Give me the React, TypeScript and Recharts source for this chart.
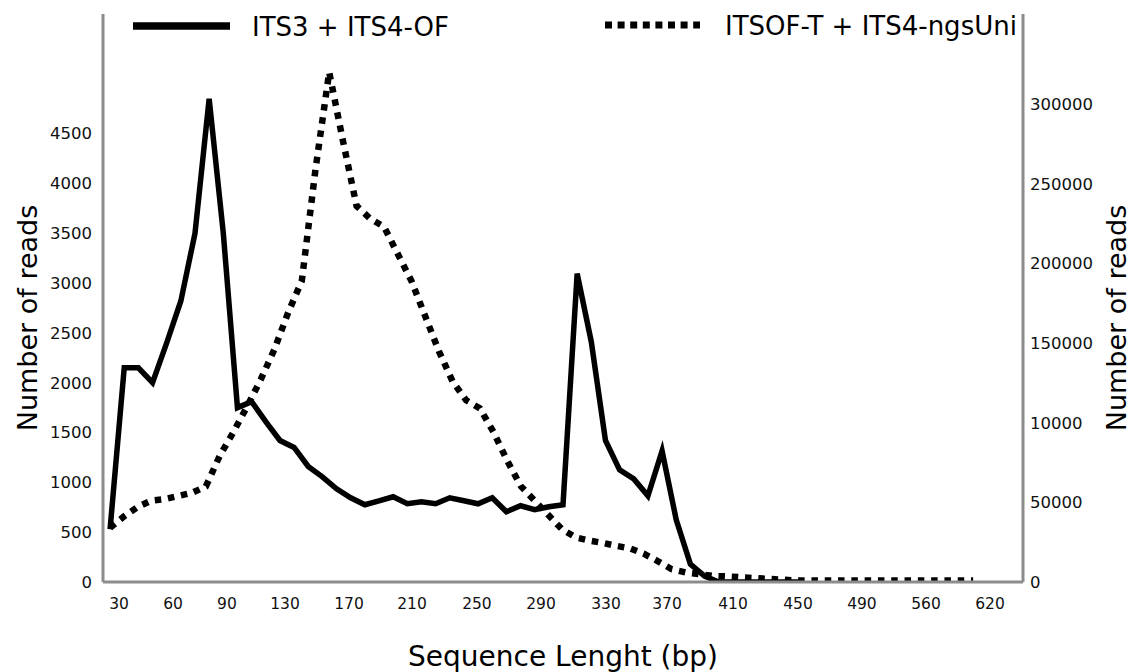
import React from "react";
import { LineChart, Line, XAxis, YAxis, Legend } from "recharts";

// ITS3 + ITS4-OF reads per length bin (left axis)
const its3Reads = [
  530, 2150, 2150, 2000, 2400, 2820, 3500, 4850, 3500, 1750,
  1810, 1610, 1420, 1350, 1160, 1055, 935, 845, 775, 815,
  855, 785, 805, 785, 845, 815, 785, 845, 705, 765,
  725, 755, 775, 3095, 2410, 1420, 1125, 1035, 865, 1315,
  625, 180, 60, 0, 0, 0, 0, 0, 0, 0,
];

// ITSOF-T + ITS4-ngsUni reads per length bin (right axis)
const itsofReads = [
  34000, 41000, 47000, 51000, 52000, 54000, 56000, 60000, 79000, 94000,
  110000, 127000, 146000, 169000, 189000, 259000, 320000, 277000, 236000, 228000,
  223000, 206000, 189000, 167000, 145000, 126000, 114000, 109000, 94000, 76000,
  60000, 51000, 42000, 33000, 28000, 26000, 24500, 22600, 21000, 17600,
  13000, 8000, 6000, 5000, 3800, 3500, 3000, 2500, 2000, 1500,
  1000, 1000, 1000, 1000, 1000, 1000, 1000, 1000, 1000, 1000,
  1000, 1000, 1000, 1000,
];

// x tick labels and the bin where each one sits
const lengthLabels = ["30", "60", "90", "130", "170", "210", "250", "290", "330", "370", "410", "450", "490", "560", "620"];
const lengthTickBins = [0.63, 4.45, 8.26, 12.36, 16.88, 21.33, 25.92, 30.45, 35.04, 39.35, 44.01, 48.6, 53.12, 57.65, 62.17];

const leftTicks = [0, 500, 1000, 1500, 2000, 2500, 3000, 3500, 4000, 4500];
const rightTicks = [0, 50000, 100000, 150000, 200000, 250000, 300000];
const rightTickLabels = ["0", "50000", "10000", "150000", "200000", "250000", "300000"];

const W = 1131;
const H = 672;
const grey = "#8c8c8c";
const font = "DejaVu Sans";

const solidData = its3Reads.map((v, i) => ({ bin: i, reads: v }));
const dottedData = itsofReads.map((v, i) => ({ bin: i, reads: v }));

const LegendBox = () => (
  <svg width={W} height={50} style={{ display: "block" }}>
    <line x1={133} x2={230} y1={26} y2={26} stroke="#000" strokeWidth={7.5} />
    <text x={252} y={35.5} fontSize={26} fontFamily={font} fill="#000">
      ITS3 + ITS4-OF
    </text>
    <line x1={605} x2={700} y1={25} y2={25} stroke="#000" strokeWidth={7} strokeDasharray="7 5.6" />
    <text x={725} y={34.5} fontSize={26} fontFamily={font} fill="#000">
      ITSOF-T + ITS4-ngsUni
    </text>
  </svg>
);

// rotated axis title, a little below the middle of the axis like the original
const sideTitle = (fromLeft: boolean) => (props: any) => {
  const vb = props.viewBox || {};
  const cx = fromLeft ? vb.x + 27 : vb.x + vb.width - 15;
  const cy = vb.y + vb.height / 2 + 20;
  return (
    <text
      x={cx}
      y={cy}
      transform={`rotate(-90, ${cx}, ${cy})`}
      textAnchor="middle"
      dominantBaseline="central"
      fontSize={27}
      fontFamily={font}
      fill="#000"
    >
      Number of reads
    </text>
  );
};

export default function App() {
  return (
    <div style={{ position: "absolute", left: 0, top: 0, width: W, height: H, background: "#fff", fontFamily: font }}>
      <LineChart width={W} height={H} margin={{ top: 14, right: 0, bottom: 50, left: 0 }}>
        <XAxis
          xAxisId="its3"
          type="number"
          dataKey="bin"
          domain={[-0.5, 64.5]}
          allowDataOverflow
          ticks={lengthTickBins}
          interval={0}
          tickFormatter={(v) => lengthLabels[lengthTickBins.indexOf(v)]}
          height={40}
          tickLine={false}
          tickSize={0}
          tickMargin={16}
          axisLine={{ stroke: grey, strokeWidth: 3 }}
          tick={{ fontSize: 15.5, fill: "#111", fontFamily: font }}
          label={{ value: "Sequence Lenght (bp)", position: "bottom", offset: 24, style: { fontSize: 28, fill: "#000", fontFamily: font } }}
        />
        <XAxis xAxisId="itsof" type="number" dataKey="bin" domain={[-0.51, 66.64]} allowDataOverflow hide />
        <YAxis
          yAxisId="left"
          orientation="left"
          width={103}
          domain={[0, 5700]}
          allowDataOverflow
          ticks={leftTicks}
          interval={0}
          tickLine={false}
          tickSize={0}
          tickMargin={11}
          axisLine={{ stroke: grey, strokeWidth: 3 }}
          tick={{ fontSize: 16.5, fill: "#111", fontFamily: font }}
          label={{ content: sideTitle(true) }}
        />
        <YAxis
          yAxisId="right"
          orientation="right"
          width={108}
          domain={[0, 356500]}
          allowDataOverflow
          ticks={rightTicks}
          interval={0}
          tickFormatter={(v) => rightTickLabels[rightTicks.indexOf(v)]}
          tickLine={false}
          tickSize={0}
          tickMargin={7}
          axisLine={{ stroke: grey, strokeWidth: 3 }}
          tick={{ fontSize: 16.5, fill: "#111", fontFamily: font }}
          label={{ content: sideTitle(false) }}
        />
        <Legend
          verticalAlign="middle"
          layout="horizontal"
          wrapperStyle={{ top: 0, left: 0, width: W, height: 50 }}
          content={() => <LegendBox />}
        />
        <Line
          xAxisId="its3"
          yAxisId="left"
          data={solidData}
          dataKey="reads"
          name="ITS3 + ITS4-OF"
          type="linear"
          stroke="#000"
          strokeWidth={5.5}
          strokeLinejoin="miter"
          dot={false}
          activeDot={false}
          isAnimationActive={false}
        />
        <Line
          xAxisId="itsof"
          yAxisId="right"
          data={dottedData}
          dataKey="reads"
          name="ITSOF-T + ITS4-ngsUni"
          type="linear"
          stroke="#000"
          strokeWidth={6.5}
          strokeDasharray="6.5 6.8"
          dot={false}
          activeDot={false}
          isAnimationActive={false}
        />
      </LineChart>
    </div>
  );
}
